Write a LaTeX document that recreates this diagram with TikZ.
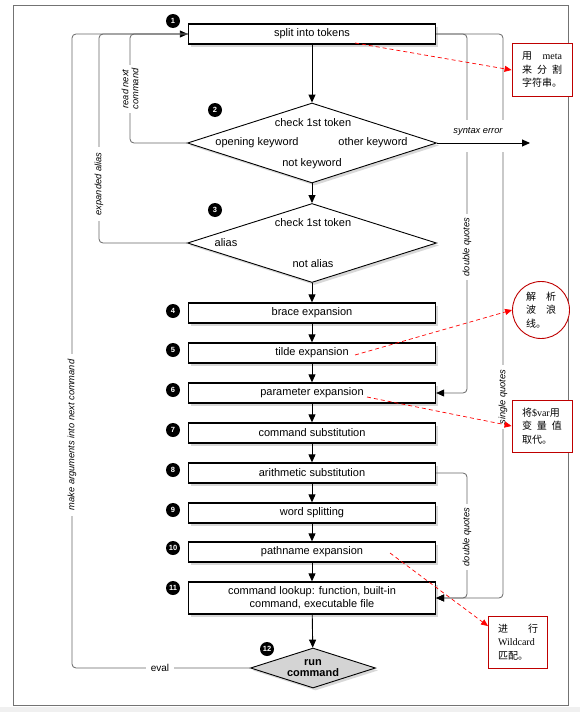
\documentclass[tikz,border=0pt]{standalone}
\usepackage{fontspec}
\setmainfont{Liberation Sans}
\newfontfamily\cjk{Noto Sans CJK SC}
\newfontfamily\memoserif{Liberation Serif}
\usetikzlibrary{shapes.geometric, shadows, arrows.meta}

\begin{document}
\begin{tikzpicture}[x=1pt, y=-1pt, font=\fontsize{11}{13}\selectfont,
    shade/.style={drop shadow={shadow xshift=2.5pt, shadow yshift=-2.5pt, fill=black!30}},
    box/.style={draw, line width=1.3pt, fill=white, minimum width=247pt, minimum height=20pt, inner sep=1pt, shade},
    dia/.style={draw, diamond, line width=0.9pt, fill=white, inner sep=0pt, shade},
    num/.style={circle, fill=black, text=white, inner sep=0pt, minimum size=14pt, font=\bfseries\fontsize{7.5}{8}\selectfont},
    flow/.style={line width=0.9pt, -{Triangle[length=8pt, width=7pt]}},
    loop/.style={draw=black!60, line width=0.8pt, rounded corners=4pt},
    back/.style={loop, -{Triangle[length=8pt, width=7pt, color=black]}},
    lbl/.style={fill=white, inner sep=1pt, font=\itshape\fontsize{9.3}{10}\selectfont},
    note/.style={red, line width=0.7pt, dash pattern=on 4pt off 3pt, -{Triangle[length=7pt, width=6pt]}},
    memo/.style={draw=red!75!black, line width=0.9pt, fill=white, align=left, font=\cjk\fontsize{10}{13.5}\selectfont}]

  \useasboundingbox (0,0) rectangle (580,712);
  \fill[black!6] (0,707) rectangle (580,712);
  \draw[black!55, line width=1pt] (13,5) rectangle (568,705);

  \node[box]                                       (S)   at (312, 34)   {split into tokens};
  \node[dia, minimum width=249pt, minimum height=80pt] (D2) at (312,143) {};
  \node[dia, minimum width=249pt, minimum height=79pt] (D3) at (312,243) {};
  \node[box]                                       (B)   at (312,313)   {brace expansion};
  \node[box]                                       (T)   at (312,353)   {tilde expansion};
  \node[box]                                       (Pa)  at (312,393)   {parameter expansion};
  \node[box]                                       (C)   at (312,433)   {command substitution};
  \node[box]                                       (A)   at (312,473)   {arithmetic substitution};
  \node[box]                                       (W)   at (312,513)   {word splitting};
  \node[box]                                       (N)   at (312,552)   {pathname expansion};
  \node[box, minimum height=32pt, align=center]    (L)   at (312,598)   {command lookup: function, built-in\\command, executable file};
  \node[dia, fill=black!17, minimum width=125pt, minimum height=40pt] (R) at (313,668) {};

  \node (D2a) at (313,123) {check 1st token};
  \node (D2b) at (257,143) {opening keyword};
  \node (D2c) at (373,143) {other keyword};
  \node (D2d) at (312,164) {not keyword};
  \node (D3a) at (313,223) {check 1st token};
  \node (D3b) at (226,243) {alias};
  \node (D3c) at (313,264) {not alias};
  \node[align=center, font=\bfseries\fontsize{11}{11.5}\selectfont] (Ra) at (313,668) {run\\command};

  \node[num] (n1)  at (173, 21) {1};
  \node[num] (n2)  at (215,110) {2};
  \node[num] (n3)  at (215,210) {3};
  \node[num] (n4)  at (173,311) {4};
  \node[num] (n5)  at (173,350) {5};
  \node[num] (n6)  at (173,390) {6};
  \node[num] (n7)  at (173,430) {7};
  \node[num] (n8)  at (173,470) {8};
  \node[num] (n9)  at (173,510) {9};
  \node[num] (n10) at (173,548) {10};
  \node[num] (n11) at (173,588) {11};
  \node[num] (n12) at (267,649) {12};

  \draw[flow] (S)  -- (D2);
  \draw[flow] (D2) -- (D3);
  \draw[flow] (D3) -- (B);
  \draw[flow] (B)  -- (T);
  \draw[flow] (T)  -- (Pa);
  \draw[flow] (Pa) -- (C);
  \draw[flow] (C)  -- (A);
  \draw[flow] (A)  -- (W);
  \draw[flow] (W)  -- (N);
  \draw[flow] (N)  -- (L);
  \draw[flow] (L)  -- (R);

  \draw[back] (R.west)  -- (72,668)  -- (72,34)  -- (S.west);
  \draw[loop] (D3.west) -- (99,243)  -- (99,34)  -- (S.west);
  \draw[loop] (D2.west) -- (130,143) -- (130,34) -- (S.west);
  \draw[back] (S.east)  -- (503,34)  -- (503,598) -- (L.east);
  \draw[back] (S.east)  -- (467,34)  -- (467,393) -- (Pa.east);
  \draw[back] (A.east)  -- (467,473) -- (467,598) -- (L.east);

  \node[lbl, font=\fontsize{10}{11}\selectfont, inner xsep=5pt] (ev) at (160,668) {eval};
  \node[lbl, rotate=90, inner xsep=6pt] (mk) at (72,435) {make arguments into next command};
  \node[lbl, rotate=90, inner xsep=6pt] (ea) at (99,184) {expanded alias};
  \node[lbl, rotate=90, inner xsep=4pt, align=center] (rn) at (130,89) {read next\\command};
  \node[lbl, rotate=90, inner xsep=4pt] (dq1) at (467,247) {double quotes};
  \node[lbl, rotate=90, inner xsep=4pt] (dq2) at (467,537) {double quotes};
  \node[lbl, rotate=90, inner xsep=5pt] (sq)  at (503,397) {single quotes};

  \node[lbl, minimum width=60pt, minimum height=32pt, text depth=12pt] (se) at (478,136) {syntax error};
  \coordinate (err) at (530,143);
  \draw[flow] (D2.east) -- (err);

  \node[memo, text width=40pt, minimum width=60pt, minimum height=53pt]  (M1) at (542, 70) {用\hfill{\memoserif meta}\\来\hfill 分\hfill 割\\字符串。};
  \node[memo, circle, text width=30pt, minimum size=57pt]             (M2) at (541,310) {解\hfill 析\\波\hfill 浪\\线。};
  \node[memo, text width=40pt, minimum width=60pt, minimum height=52pt]  (M3) at (542,426) {将{\memoserif\$var}用\\变\hfill 量\hfill 值\\取代。};
  \node[memo, text width=40pt, minimum width=59pt, minimum height=52pt]  (M4) at (518,642) {进\hfill 行\\{\memoserif Wildcard}\\匹配。};

  \coordinate (s1) at (355, 43);
  \coordinate (s2) at (355,355);
  \coordinate (s3) at (367,397);
  \coordinate (s4) at (390,553);
  \draw[note] (s1) -- (M1.west);
  \draw[note] (s2) -- (M2.west);
  \draw[note] (s3) -- (M3.west);
  \draw[note] (s4) -- (M4.152);
\end{tikzpicture}
\end{document}
